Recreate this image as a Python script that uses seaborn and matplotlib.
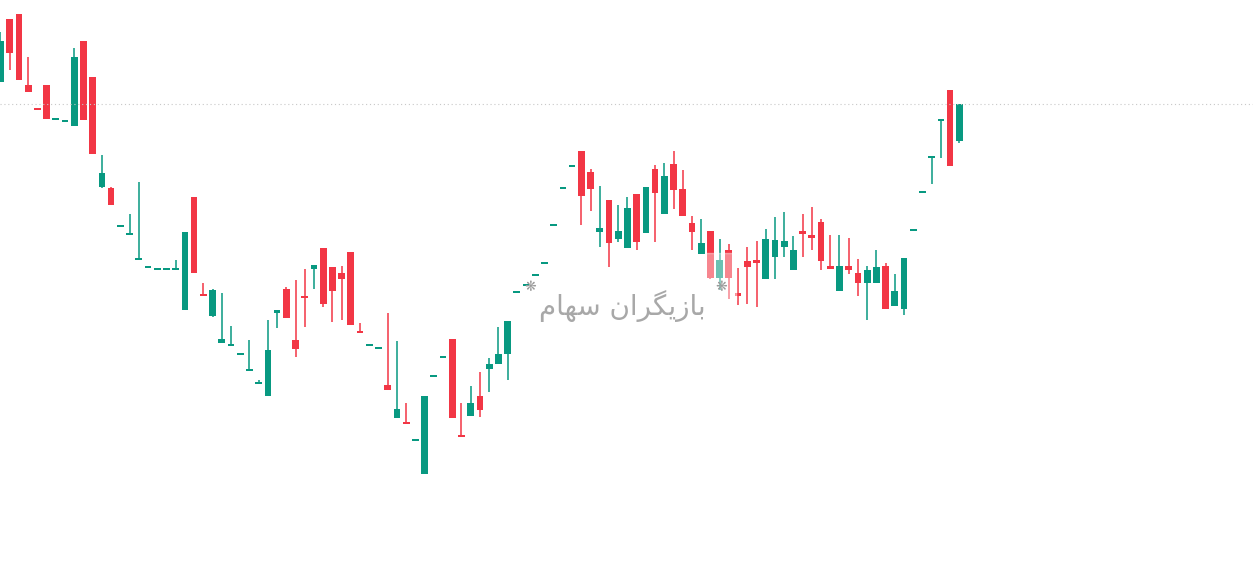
import numpy as np
import pandas as pd
import seaborn as sns
import matplotlib.pyplot as plt
from matplotlib.patches import Rectangle

# OHLC data (arbitrary price units)
opens = [518, 581, 586, 515, 491, 515, 480, 478, 474, 559, 523, 413, 412, 373, 365, 340, 332, 330, 330, 330,
         290, 403, 305, 284, 257, 254, 245, 229, 216, 204, 287, 311, 260, 303, 331, 352, 333, 327, 348, 268,
         254, 251, 215, 182, 177, 159, 126, 223, 242, 261, 164, 184, 204, 231, 236, 246, 307, 314, 324, 336,
         374, 411, 433, 449, 428, 368, 400, 361, 352, 406, 367, 431, 386, 436, 411, 377, 346, 369, 322, 350,
         307, 339, 340, 321, 343, 353, 330, 369, 365, 378, 334, 309, 334, 327, 317, 317, 334, 294, 291, 369,
         407, 442, 479, 510, 459]
highs = [568, 581, 586, 543, 491, 515, 480, 478, 552, 559, 523, 445, 413, 373, 386, 418, 332, 330, 330, 340,
         368, 403, 317, 311, 307, 274, 245, 260, 220, 280, 290, 313, 320, 331, 335, 352, 333, 334, 348, 277,
         255, 251, 287, 259, 197, 161, 204, 223, 242, 261, 197, 214, 228, 242, 273, 279, 307, 314, 324, 336,
         374, 411, 433, 449, 431, 414, 400, 395, 403, 406, 413, 435, 437, 449, 430, 384, 381, 369, 361, 356,
         332, 353, 359, 371, 383, 388, 364, 386, 393, 381, 365, 365, 362, 341, 334, 350, 337, 326, 342, 369,
         407, 442, 479, 510, 496]
lows = [518, 530, 520, 508, 490, 481, 480, 478, 474, 480, 446, 412, 395, 373, 365, 340, 332, 330, 330, 330,
        290, 327, 304, 283, 257, 254, 245, 229, 216, 204, 272, 282, 243, 273, 311, 293, 278, 280, 275, 267,
        254, 251, 210, 182, 176, 159, 126, 223, 242, 182, 163, 184, 183, 208, 236, 220, 307, 314, 324, 336,
        374, 411, 433, 375, 389, 353, 333, 358, 352, 350, 367, 358, 386, 391, 384, 350, 346, 321, 310, 301,
        295, 296, 293, 321, 321, 343, 330, 343, 350, 330, 331, 309, 326, 304, 280, 317, 291, 294, 285, 369,
        407, 416, 442, 434, 457]
closes = [559, 547, 520, 508, 490, 481, 480, 478, 543, 480, 446, 427, 395, 373, 365, 340, 332, 330, 330, 330,
          368, 327, 304, 310, 261, 254, 245, 229, 216, 250, 290, 282, 251, 302, 335, 296, 309, 321, 275, 267,
          254, 251, 210, 191, 176, 159, 204, 223, 242, 182, 163, 197, 190, 236, 246, 279, 307, 314, 324, 336,
          374, 411, 433, 404, 411, 372, 357, 369, 392, 358, 413, 407, 424, 410, 384, 368, 357, 322, 340, 322,
          304, 333, 337, 361, 360, 359, 350, 366, 362, 339, 331, 334, 330, 317, 330, 333, 291, 309, 342, 369,
          407, 442, 479, 434, 496]

df = pd.DataFrame({"open": opens, "high": highs, "low": lows, "close": closes})
df["i"] = np.arange(len(df))
df["up"] = df["close"] >= df["open"]

up_color = "#089981"
down_color = "#F23645"

sns.set_theme(style="white")
plt.rcParams["font.family"] = ["DejaVu Sans", "Noto Sans"]

fig = plt.figure(figsize=(12.53, 5.88), dpi=100)
ax = fig.add_axes([0, 0, 1, 1])
ax.set_axis_off()

colors = np.where(df["up"], up_color, down_color)

# wicks
ax.vlines(df["i"], df["low"], df["high"], colors=colors, linewidth=1.1, zorder=2)

# bodies (flat candles still get a thin tick)
body_bottom = df[["open", "close"]].min(axis=1)
body_height = (df["close"] - df["open"]).abs().clip(lower=1.8)
ax.bar(df["i"], body_height, bottom=body_bottom, width=0.73, color=colors, linewidth=0, zorder=3)

# last price line
ax.axhline(closes[-1], color="#c8c8c8", linestyle=(0, (1, 2.5)), linewidth=0.8, zorder=4)

ax.set_xlim(-0.054, 135.85)
ax.set_ylim(12, 600)

# watermark (Persian text, shaped by hand, laid out right to left)
fig.patches.append(Rectangle((705 / 1253, 1 - 300 / 588), 31 / 1253, 47 / 588,
                             transform=fig.transFigure, color="white", alpha=0.4, zorder=5))
wm = "\uFEE1\uFE8E\uFEEC\uFEB3 \uFEE5\uFE8D\uFEAE\uFB95\uFEF3\uFEAF\uFE8E\uFE91"
fig.text(622 / 1253, 1 - 306 / 588, wm, color="#a8a8a8", fontsize=20, ha="center", va="center",
         family=["DejaVu Sans"], zorder=6)
fig.text(530 / 1253, 1 - 287 / 588, "\u274B", color="#9a9a9a", fontsize=10, ha="center", va="center", zorder=6)
fig.text(721 / 1253, 1 - 287 / 588, "\u274B", color="#9a9a9a", fontsize=10, ha="center", va="center", zorder=6)

fig.savefig("out.png", dpi=100)
